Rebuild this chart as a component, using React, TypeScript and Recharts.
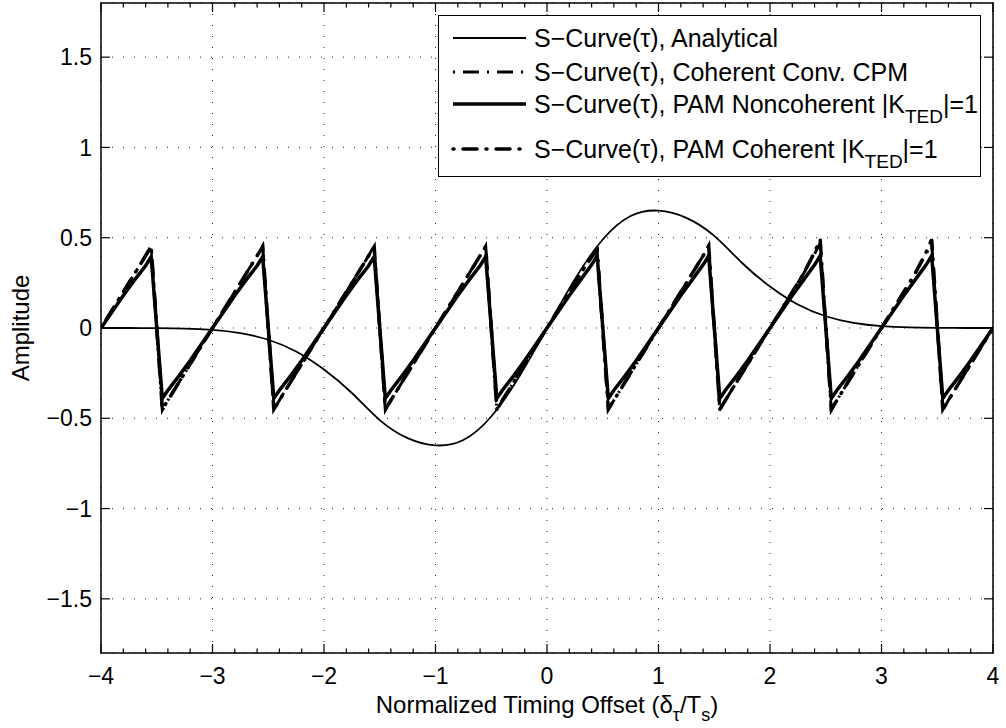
import React from 'react'
import {
  LineChart,
  Line,
  XAxis,
  YAxis,
  CartesianGrid,
  ReferenceLine,
  ReferenceArea,
  Legend,
} from 'recharts'

const FONT = '"Liberation Sans", Arial, Helvetica, sans-serif'
const TICK_FS = 23
const LABEL_FS = 24
const LEGEND_FS = 25

// analytical S-curve, every 0.25
const ANALYTIC_X = [
  -4, -3.75, -3.5, -3.25, -3, -2.75, -2.5, -2.25, -2, -1.75, -1.5, -1.25, -1, -0.75, -0.5, -0.25,
  0, 0.25, 0.5, 0.75, 1, 1.25, 1.5, 1.75, 2, 2.25, 2.5, 2.75, 3, 3.25, 3.5, 3.75, 4,
]
const ANALYTIC_Y = [
  0, 0, -0.001, -0.003, -0.01, -0.028, -0.065, -0.13, -0.23, -0.36, -0.51, -0.61, -0.65, -0.62, -0.49, -0.27,
  0, 0.27, 0.49, 0.62, 0.65, 0.61, 0.51, 0.36, 0.23, 0.13, 0.065, 0.028, 0.01, 0.003, 0.001, 0, 0,
]

// sawtooth curves share one x grid (rise, peak, drop, trough per symbol period)
const SAW_X = [
  -4, -3.9, -3.8, -3.7, -3.6, -3.55, -3.45, -3.4, -3.3, -3.2, -3.1,
  -3, -2.9, -2.8, -2.7, -2.6, -2.55, -2.45, -2.4, -2.3, -2.2, -2.1,
  -2, -1.9, -1.8, -1.7, -1.6, -1.55, -1.45, -1.4, -1.3, -1.2, -1.1,
  -1, -0.9, -0.8, -0.7, -0.6, -0.55, -0.45, -0.4, -0.3, -0.2, -0.1,
  0, 0.1, 0.2, 0.3, 0.4, 0.45, 0.55, 0.6, 0.7, 0.8, 0.9,
  1, 1.1, 1.2, 1.3, 1.4, 1.45, 1.55, 1.6, 1.7, 1.8, 1.9,
  2, 2.1, 2.2, 2.3, 2.4, 2.45, 2.55, 2.6, 2.7, 2.8, 2.9,
  3, 3.1, 3.2, 3.3, 3.4, 3.45, 3.55, 3.6, 3.7, 3.8, 3.9,
  4,
]
const CPM_Y = [
  0, 0.1, 0.2, 0.3, 0.4, 0.455, -0.455, -0.4, -0.3, -0.2, -0.1,
  0, 0.1, 0.2, 0.3, 0.4, 0.455, -0.455, -0.4, -0.3, -0.2, -0.1,
  0, 0.1, 0.2, 0.3, 0.4, 0.455, -0.455, -0.4, -0.3, -0.2, -0.1,
  0, 0.1, 0.2, 0.3, 0.4, 0.455, -0.455, -0.4, -0.3, -0.2, -0.1,
  0, 0.1, 0.2, 0.3, 0.39, 0.43, -0.45, -0.4, -0.3, -0.2, -0.1,
  0, 0.1, 0.2, 0.3, 0.4, 0.455, -0.455, -0.4, -0.3, -0.2, -0.1,
  0, 0.1, 0.2, 0.3, 0.41, 0.47, -0.455, -0.4, -0.3, -0.2, -0.1,
  0, 0.1, 0.2, 0.3, 0.41, 0.47, -0.455, -0.4, -0.3, -0.2, -0.1,
  0,
]
const NONCOH_Y = [
  0, 0.09, 0.18, 0.265, 0.345, 0.395, -0.39, -0.345, -0.265, -0.18, -0.09,
  0, 0.09, 0.18, 0.265, 0.345, 0.395, -0.39, -0.345, -0.265, -0.18, -0.09,
  0, 0.09, 0.18, 0.265, 0.345, 0.395, -0.39, -0.345, -0.265, -0.18, -0.09,
  0, 0.09, 0.18, 0.265, 0.345, 0.395, -0.39, -0.345, -0.265, -0.18, -0.09,
  0, 0.09, 0.18, 0.265, 0.35, 0.4, -0.39, -0.345, -0.265, -0.18, -0.09,
  0, 0.09, 0.18, 0.265, 0.35, 0.4, -0.39, -0.345, -0.265, -0.18, -0.09,
  0, 0.09, 0.18, 0.265, 0.35, 0.4, -0.39, -0.345, -0.265, -0.18, -0.09,
  0, 0.09, 0.18, 0.265, 0.35, 0.4, -0.39, -0.345, -0.265, -0.18, -0.09,
  0,
]
const PAMC_Y = [
  0, 0.1, 0.2, 0.3, 0.4, 0.45, -0.45, -0.4, -0.3, -0.2, -0.1,
  0, 0.1, 0.2, 0.3, 0.4, 0.45, -0.45, -0.4, -0.3, -0.2, -0.1,
  0, 0.1, 0.2, 0.3, 0.4, 0.45, -0.45, -0.4, -0.3, -0.2, -0.1,
  0, 0.1, 0.2, 0.3, 0.4, 0.45, -0.45, -0.4, -0.3, -0.2, -0.1,
  0, 0.1, 0.2, 0.3, 0.4, 0.43, -0.45, -0.4, -0.3, -0.2, -0.1,
  0, 0.1, 0.2, 0.3, 0.4, 0.455, -0.45, -0.4, -0.3, -0.2, -0.1,
  0, 0.1, 0.2, 0.3, 0.42, 0.49, -0.45, -0.4, -0.3, -0.2, -0.1,
  0, 0.1, 0.2, 0.3, 0.42, 0.49, -0.45, -0.4, -0.3, -0.2, -0.1,
  0,
]

const X_TICKS = [-4, -3, -2, -1, 0, 1, 2, 3, 4]
const X_MINOR = [
  -3.8, -3.6, -3.4, -3.2, -2.8, -2.6, -2.4, -2.2, -1.8, -1.6, -1.4, -1.2, -0.8, -0.6, -0.4, -0.2,
  0.2, 0.4, 0.6, 0.8, 1.2, 1.4, 1.6, 1.8, 2.2, 2.4, 2.6, 2.8, 3.2, 3.4, 3.6, 3.8,
]
const Y_TICKS = [-1.5, -1, -0.5, 0, 0.5, 1, 1.5]
const X_DOMAIN: [number, number] = [-4, 4]
const Y_DOMAIN: [number, number] = [-1.8, 1.8]

// tick lengths in data units (≈9px major, ≈4.5px minor)
const MAJ_Y = 0.05
const MIN_Y = 0.025
const MAJ_X = 0.08

const toPoints = (xs: number[], ys: number[]) => xs.map((x, i) => ({ x, y: ys[i] }))

const SERIES = [
  { key: 'analytic', data: toPoints(ANALYTIC_X, ANALYTIC_Y), width: 1.8, dash: undefined, cap: 'butt', curve: 'natural', label: 'S\u2212Curve(\u03c4), Analytical', sub: '', tail: '' },
  { key: 'cpm', data: toPoints(SAW_X, CPM_Y), width: 3, dash: '2 8 16 8', cap: 'butt', curve: 'linear', label: 'S\u2212Curve(\u03c4), Coherent Conv. CPM', sub: '', tail: '' },
  { key: 'noncoh', data: toPoints(SAW_X, NONCOH_Y), width: 3.5, dash: undefined, cap: 'butt', curve: 'linear', label: 'S\u2212Curve(\u03c4), PAM Noncoherent |K', sub: 'TED', tail: '|=1' },
  { key: 'pamc', data: toPoints(SAW_X, PAMC_Y), width: 3.5, dash: '1 9 14 9', cap: 'round', curve: 'linear', label: 'S\u2212Curve(\u03c4), PAM Coherent |K', sub: 'TED', tail: '|=1' },
]
const LEGEND_ROW_Y = [22, 56, 88, 133]

const LegendBox = () => (
  <div
    style={{
      boxSizing: 'border-box',
      width: 543,
      height: 162,
      border: '1.5px solid #000',
      background: '#fff',
      position: 'relative',
      fontFamily: FONT,
      fontSize: LEGEND_FS,
      color: '#000',
    }}
  >
    {SERIES.map((s, i) => (
      <div
        key={s.key}
        style={{ position: 'absolute', left: 0, top: LEGEND_ROW_Y[i] - 16, height: 32, display: 'flex', alignItems: 'center', whiteSpace: 'nowrap' }}
      >
        <svg width={95} height={32} style={{ flex: 'none' }}>
          <line x1={14} x2={87} y1={16} y2={16} stroke="#000" strokeWidth={s.width} strokeDasharray={s.dash} strokeLinecap={s.cap as any} />
        </svg>
        <span>
          {s.label}
          {s.sub && <span style={{ position: 'relative', top: 10, fontSize: 19 }}>{s.sub}</span>}
          {s.tail}
        </span>
      </div>
    ))}
  </div>
)

const YLabel = ({ viewBox }: any) => {
  const cx = viewBox.x + 20
  const cy = viewBox.y + viewBox.height / 2
  return (
    <text x={cx} y={cy} transform={`rotate(-90 ${cx} ${cy})`} textAnchor="middle" dominantBaseline="central" fontFamily={FONT} fontSize={LABEL_FS} fill="#000">
      Amplitude
    </text>
  )
}

const XLabel = ({ viewBox }: any) => {
  const cx = viewBox.x + viewBox.width / 2
  const y = viewBox.y + 60
  return (
    <text x={cx} y={y} textAnchor="middle" fontFamily={FONT} fontSize={LABEL_FS} fill="#000">
      Normalized Timing Offset (δ
      <tspan dy={8} fontSize={18}>τ</tspan>
      <tspan dy={-8}>/T</tspan>
      <tspan dy={8} fontSize={18}>s</tspan>
      <tspan dy={-8}>)</tspan>
    </text>
  )
}

const fmt = (v: number) => (v < 0 ? '\u2212' + String(-v) : String(v))

export default function App() {
  const tickStyle = { fontFamily: FONT, fontSize: TICK_FS, fill: '#000' }
  return (
    <div style={{ position: 'absolute', left: 0, top: 0, width: 1006, height: 728, background: '#fff' }}>
      <LineChart width={1006} height={728} margin={{ top: 3, right: 13, bottom: 0, left: 0 }}>
        <CartesianGrid stroke="#222" strokeDasharray="1 10" strokeWidth={1} />
        <XAxis
          type="number"
          dataKey="x"
          domain={X_DOMAIN}
          ticks={X_TICKS}
          allowDataOverflow
          height={75}
          tickLine={false}
          axisLine={false}
          tickSize={0}
          tickMargin={15}
          tick={tickStyle}
          tickFormatter={fmt}
          label={{ content: <XLabel /> }}
        />
        <YAxis
          type="number"
          dataKey="y"
          domain={Y_DOMAIN}
          ticks={Y_TICKS}
          allowDataOverflow
          width={101}
          tickLine={false}
          axisLine={false}
          tickSize={0}
          tickMargin={9}
          tick={tickStyle}
          tickFormatter={fmt}
          label={{ content: <YLabel /> }}
        />
        <ReferenceArea x1={-4} x2={4} y1={-1.8} y2={1.8} fill="none" stroke="#000" strokeWidth={1.5} />
        {X_TICKS.map((t) => (
          <ReferenceLine key={`xb${t}`} segment={[{ x: t, y: -1.8 }, { x: t, y: -1.8 + MAJ_Y }]} stroke="#000" strokeWidth={1.2} />
        ))}
        {X_TICKS.map((t) => (
          <ReferenceLine key={`xt${t}`} segment={[{ x: t, y: 1.8 }, { x: t, y: 1.8 - MAJ_Y }]} stroke="#000" strokeWidth={1.2} />
        ))}
        {X_MINOR.map((t) => (
          <ReferenceLine key={`mb${t}`} segment={[{ x: t, y: -1.8 }, { x: t, y: -1.8 + MIN_Y }]} stroke="#000" strokeWidth={1.2} />
        ))}
        {X_MINOR.map((t) => (
          <ReferenceLine key={`mt${t}`} segment={[{ x: t, y: 1.8 }, { x: t, y: 1.8 - MIN_Y }]} stroke="#000" strokeWidth={1.2} />
        ))}
        {Y_TICKS.map((v) => (
          <ReferenceLine key={`yl${v}`} segment={[{ x: -4, y: v }, { x: -4 + MAJ_X, y: v }]} stroke="#000" strokeWidth={1.2} />
        ))}
        {Y_TICKS.map((v) => (
          <ReferenceLine key={`yr${v}`} segment={[{ x: 4, y: v }, { x: 4 - MAJ_X, y: v }]} stroke="#000" strokeWidth={1.2} />
        ))}
        {SERIES.map((s) => (
          <Line
            key={s.key}
            data={s.data}
            dataKey="y"
            type={s.curve as any}
            stroke="#000"
            strokeWidth={s.width}
            strokeDasharray={s.dash}
            strokeLinecap={s.cap as any}
            dot={false}
            activeDot={false}
            isAnimationActive={false}
            legendType="none"
          />
        ))}
        <Legend
          layout="horizontal"
          verticalAlign="middle"
          align="center"
          content={<LegendBox />}
          wrapperStyle={{ position: 'absolute', left: 438, top: 15, width: 543, height: 162 }}
        />
      </LineChart>
    </div>
  )
}
